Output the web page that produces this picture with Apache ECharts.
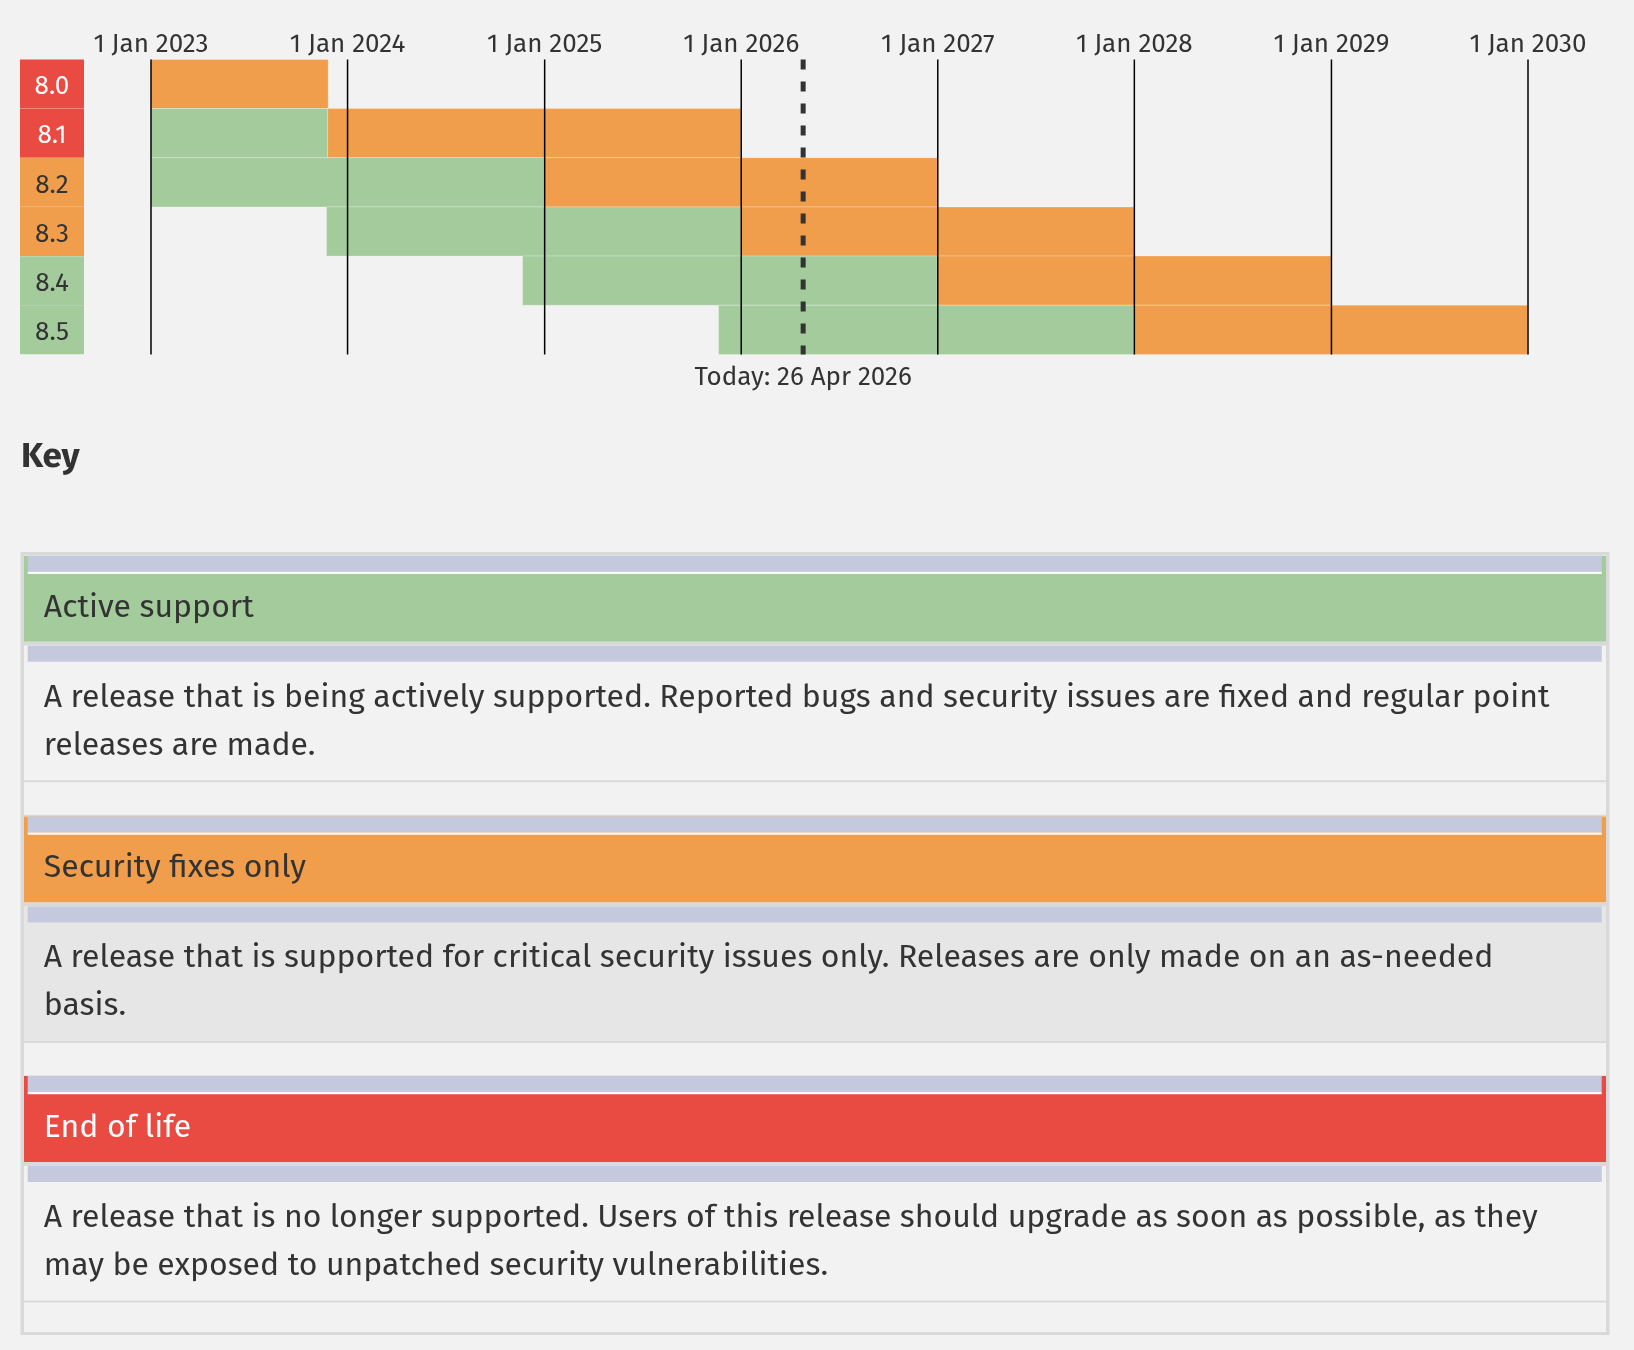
<!DOCTYPE html>
<html>
<head>
<meta charset="utf-8">
<title>Supported Versions</title>
<script src="https://cdn.jsdelivr.net/npm/echarts@6/dist/echarts.min.js"></script>
<style>
  html, body { margin: 0; padding: 0; background: #f2f2f2; }
  #chart { width: 1634px; height: 1350px; }
</style>
</head>
<body>
<div id="chart"></div>
<script>
const versions = ['8.0', '8.1', '8.2', '8.3', '8.4', '8.5'];
const versionState = ['eol', 'eol', 'security', 'security', 'active', 'active'];
// visible part of each phase (chart starts at 1 Jan 2023)
const activeFrom = [null, '2023-01-01', '2023-01-01', '2023-11-23', '2024-11-21', '2025-11-20'];
const activeTo = [null, '2023-11-25', '2024-12-31', '2025-12-31', '2026-12-31', '2027-12-31'];
const securityFrom = ['2023-01-01', '2023-11-25', '2024-12-31', '2025-12-31', '2026-12-31', '2027-12-31'];
const securityTo = ['2023-11-26', '2025-12-31', '2026-12-31', '2027-12-31', '2028-12-31', '2029-12-31'];
const yearTicks = ['2023-01-01', '2024-01-01', '2025-01-01', '2026-01-01', '2027-01-01', '2028-01-01', '2029-01-01', '2030-01-01'];
const today = '2026-04-26';
const monthNames = ['Jan', 'Feb', 'Mar', 'Apr', 'May', 'Jun', 'Jul', 'Aug', 'Sep', 'Oct', 'Nov', 'Dec'];

const keyTitles = ['Active support', 'Security fixes only', 'End of life'];
const keyStates = ['active', 'security', 'eol'];
const keyText = [
  ['A release that is being actively supported. Reported bugs and security issues are fixed and regular point', 'releases are made.'],
  ['A release that is supported for critical security issues only. Releases are only made on an as-needed', 'basis.'],
  ['A release that is no longer supported. Users of this release should upgrade as soon as possible, as they', 'may be exposed to unpatched security vulnerabilities.']
];

const colors = { active: '#a3cb9c', security: '#f09e4b', eol: '#e94a42' };
const font = '"Fira Sans", Lato, "Noto Sans", sans-serif';
const textColor = '#333';

const t = s => new Date(s + 'T00:00:00').getTime();
const fmtDate = v => {
  const d = new Date(v);
  return d.getDate() + ' ' + monthNames[d.getMonth()] + ' ' + d.getFullYear();
};

const bars = [];
versions.forEach((v, i) => {
  if (activeFrom[i]) {
    bars.push({ value: [i, t(activeFrom[i]), t(activeTo[i])], itemStyle: { color: colors.active } });
  }
  bars.push({ value: [i, t(securityFrom[i]), t(securityTo[i])], itemStyle: { color: colors.security } });
});

function renderBar(params, api) {
  const row = api.value(0);
  const p0 = api.coord([api.value(1), row]);
  const p1 = api.coord([api.value(2), row]);
  const h = api.size([0, 1])[1];
  return {
    type: 'rect',
    shape: { x: p0[0], y: p0[1] - h / 2, width: p1[0] - p0[0], height: h },
    style: { fill: api.visual('color'), stroke: 'rgba(255,255,255,0.25)', lineWidth: 1 }
  };
}

function renderYearLine(params, api) {
  const x = api.coord([api.value(0), 0])[0];
  const cs = params.coordSys;
  return {
    type: 'line',
    shape: { x1: x, y1: cs.y, x2: x, y2: cs.y + cs.height },
    style: { stroke: '#000', lineWidth: 1.5 }
  };
}

function renderToday(params, api) {
  const x = api.coord([api.value(0), 0])[0];
  const cs = params.coordSys;
  return {
    type: 'group',
    children: [
      {
        type: 'line',
        shape: { x1: x, y1: cs.y, x2: x, y2: cs.y + cs.height },
        style: { stroke: '#333', lineWidth: 5, lineDash: [10, 12] }
      },
      {
        type: 'text',
        x: x, y: cs.y + cs.height + 23,
        style: {
          text: 'Today: ' + fmtDate(api.value(0)),
          fill: textColor, font: '26px ' + font,
          align: 'center', verticalAlign: 'middle'
        }
      }
    ]
  };
}

// key / legend block
const graphics = [];
graphics.push({ type: 'text', left: 21, top: 440, style: { text: 'Key', fill: textColor, font: 'bold 35px ' + font } });
graphics.push({ type: 'rect', shape: { x: 20.5, y: 552, width: 1589, height: 783 }, style: { fill: '#d9d9d9' }, silent: true });
graphics.push({ type: 'rect', shape: { x: 24, y: 555, width: 1582, height: 777 }, style: { fill: '#f2f2f2' }, silent: true });
const keyTops = [555.7, 816.4, 1076];
keyTitles.forEach((title, i) => {
  const T = keyTops[i];
  const st = keyStates[i];
  const rects = [
    [24, T, 1582, 86, colors[st]],
    [27.7, T, 1574, 16, '#c5c9dd'],
    [27.7, T + 16, 1574, 2.3, '#fafafa'],
    [24, T + 86, 1582, 4, '#d9d9d9'],
    [24, T + 90, 1582, 134.5, i === 1 ? '#e6e6e6' : '#f2f2f2'],
    [27.7, T + 90, 1574, 16, '#c5c9dd'],
    [24, T + 224.5, 1582, 2, '#d9d9d9']
  ];
  if (i < keyTitles.length - 1) rects.push([24, T + 259, 1582, 1.5, '#d9d9d9']);
  rects.forEach(r => graphics.push({
    type: 'rect', silent: true,
    shape: { x: r[0], y: r[1], width: r[2], height: r[3] },
    style: { fill: r[4] }
  }));
  graphics.push({
    type: 'text', x: 43.8, y: T + 52,
    style: { text: title, fill: st === 'eol' ? '#fff' : textColor, font: '32px ' + font, verticalAlign: 'middle' }
  });
  keyText[i].forEach((line, j) => graphics.push({
    type: 'text', x: 43.8, y: T + 142 + j * 48,
    style: { text: line, fill: textColor, font: '32px ' + font, verticalAlign: 'middle' }
  }));
});

const labelBox = (bg, fg) => ({
  width: 64, height: 43, lineHeight: 43, padding: [6, 0, 0, 0],
  align: 'center', backgroundColor: bg, color: fg, fontSize: 26
});

const chart = echarts.init(document.getElementById('chart'));
chart.setOption({
  backgroundColor: '#f2f2f2',
  animation: false,
  textStyle: { fontFamily: font },
  grid: { left: 151, right: 106, top: 59.4, height: 295 },
  xAxis: {
    type: 'value',
    position: 'top',
    min: t(yearTicks[0]),
    max: t(yearTicks[yearTicks.length - 1]),
    axisLine: { show: false },
    axisTick: { show: false },
    splitLine: { show: false },
    axisLabel: {
      customValues: yearTicks.map(t),
      formatter: v => fmtDate(v),
      fontSize: 26,
      color: textColor,
      margin: 2
    }
  },
  yAxis: {
    type: 'category',
    data: versions,
    inverse: true,
    axisLine: { show: false },
    axisTick: { show: false },
    splitLine: { show: false },
    axisLabel: {
      margin: 67,
      formatter: (v, i) => '{' + versionState[i] + '|' + v + '}',
      rich: {
        eol: labelBox(colors.eol, '#fff'),
        security: labelBox(colors.security, textColor),
        active: labelBox(colors.active, textColor)
      }
    }
  },
  graphic: graphics,
  series: [
    { type: 'custom', name: 'phases', renderItem: renderBar, data: bars, encode: { x: [1, 2], y: 0 }, z: 2 },
    { type: 'custom', name: 'years', renderItem: renderYearLine, data: yearTicks.map(s => [t(s)]), encode: { x: 0 }, clip: false, z: 5 },
    { type: 'custom', name: 'today', renderItem: renderToday, data: [[t(today)]], encode: { x: 0 }, clip: false, z: 6 }
  ]
});
</script>
</body>
</html>
